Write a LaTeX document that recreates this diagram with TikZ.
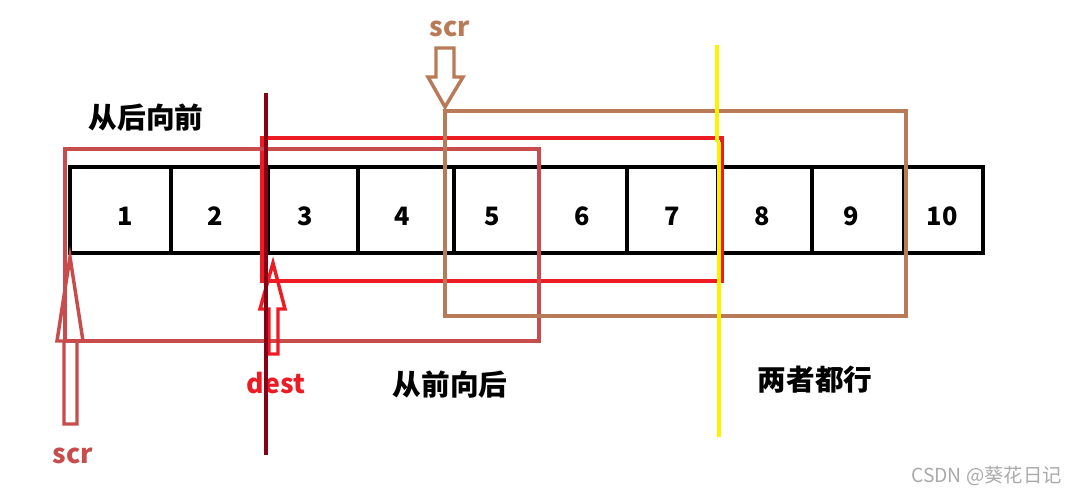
\documentclass[tikz,border=0pt]{standalone}
\usepackage{fontspec}
\newfontfamily\cjk{Noto Sans CJK SC}
\definecolor{rbrown}{RGB}{200,76,76}
\definecolor{bred}{RGB}{237,28,36}
\definecolor{lbrown}{RGB}{185,122,87}
\definecolor{dred}{RGB}{136,0,21}
\definecolor{yel}{RGB}{255,242,0}
\definecolor{wm}{RGB}{170,170,170}
\tikzset{
  arrline/.style={draw=black,line width=3pt},
  frame/.style={line width=2.6pt},
  num/.style={font=\cjk\bfseries\fontsize{19}{19}\selectfont,inner sep=0pt},
  lbl/.style={font=\cjk\bfseries\fontsize{21.5}{21.5}\selectfont,inner sep=0pt},
  tag/.style={font=\cjk\bfseries\fontsize{20}{20}\selectfont,inner sep=0pt},
}
\begin{document}
\begin{tikzpicture}[x=0.75pt,y=-0.75pt]
\useasboundingbox (0,0) rectangle (1067,493);
\fill[white] (0,0) rectangle (1067,493);
% array
\draw[arrline] (70,167) rectangle (983,253);
\foreach \x in {171,268,358,454,627,718,812,904}
  \draw[arrline] (\x,167) -- (\x,253);
\foreach \x/\n [count=\i] in {125/1,215/2,305/3,402/4,492/5,582/6,672/7,762/8,851/9,942/10}
  \node[num] (n\i) at (\x,216) {\n};
% frames
\draw[frame,bred] (262,138) rectangle (722,281);
\draw[frame,rbrown] (65,149) rectangle (539,341);
\draw[frame,lbrown] (445,111) rectangle (906,316);
\draw[frame,yel] (717,45) -- (717,142);
\draw[frame,yel] (719,142) -- (719,437);
% arrows
\draw[frame,rbrown,line join=miter] (70,257) -- (83,341) -- (77,341) -- (77,424) -- (64,424) -- (64,341) -- (57,341) -- cycle;
\draw[frame,bred,line join=miter] (273,263) -- (285,309) -- (278,309) -- (278,354) -- (269,354) -- (269,309) -- (260,309) -- cycle;
\draw[frame,lbrown,line join=miter] (436,48) -- (454,48) -- (454,77) -- (463,77) -- (445,107) -- (428,77) -- (436,77) -- cycle;
% labels
\node[tag,text=lbrown] (scrtop) at (450,29) {scr};
\node[lbl] (bf) at (146,118) {从后向前};
\node[tag,text=bred] (dest) at (276,383) {dest};
\node[lbl] (fb) at (450,385) {从前向后};
\node[lbl] (both) at (815,380) {两者都行};
\node[tag,text=rbrown] (scrbot) at (73,456) {scr};
\node[font=\cjk\fontsize{14.5}{14.5}\selectfont,text=wm,inner sep=0pt,anchor=east] (wmk) at (1062,476) {CSDN @葵花日记};
% dark red line on top
\draw[frame,dred] (266,93) -- (266,455);
\end{tikzpicture}
\end{document}
